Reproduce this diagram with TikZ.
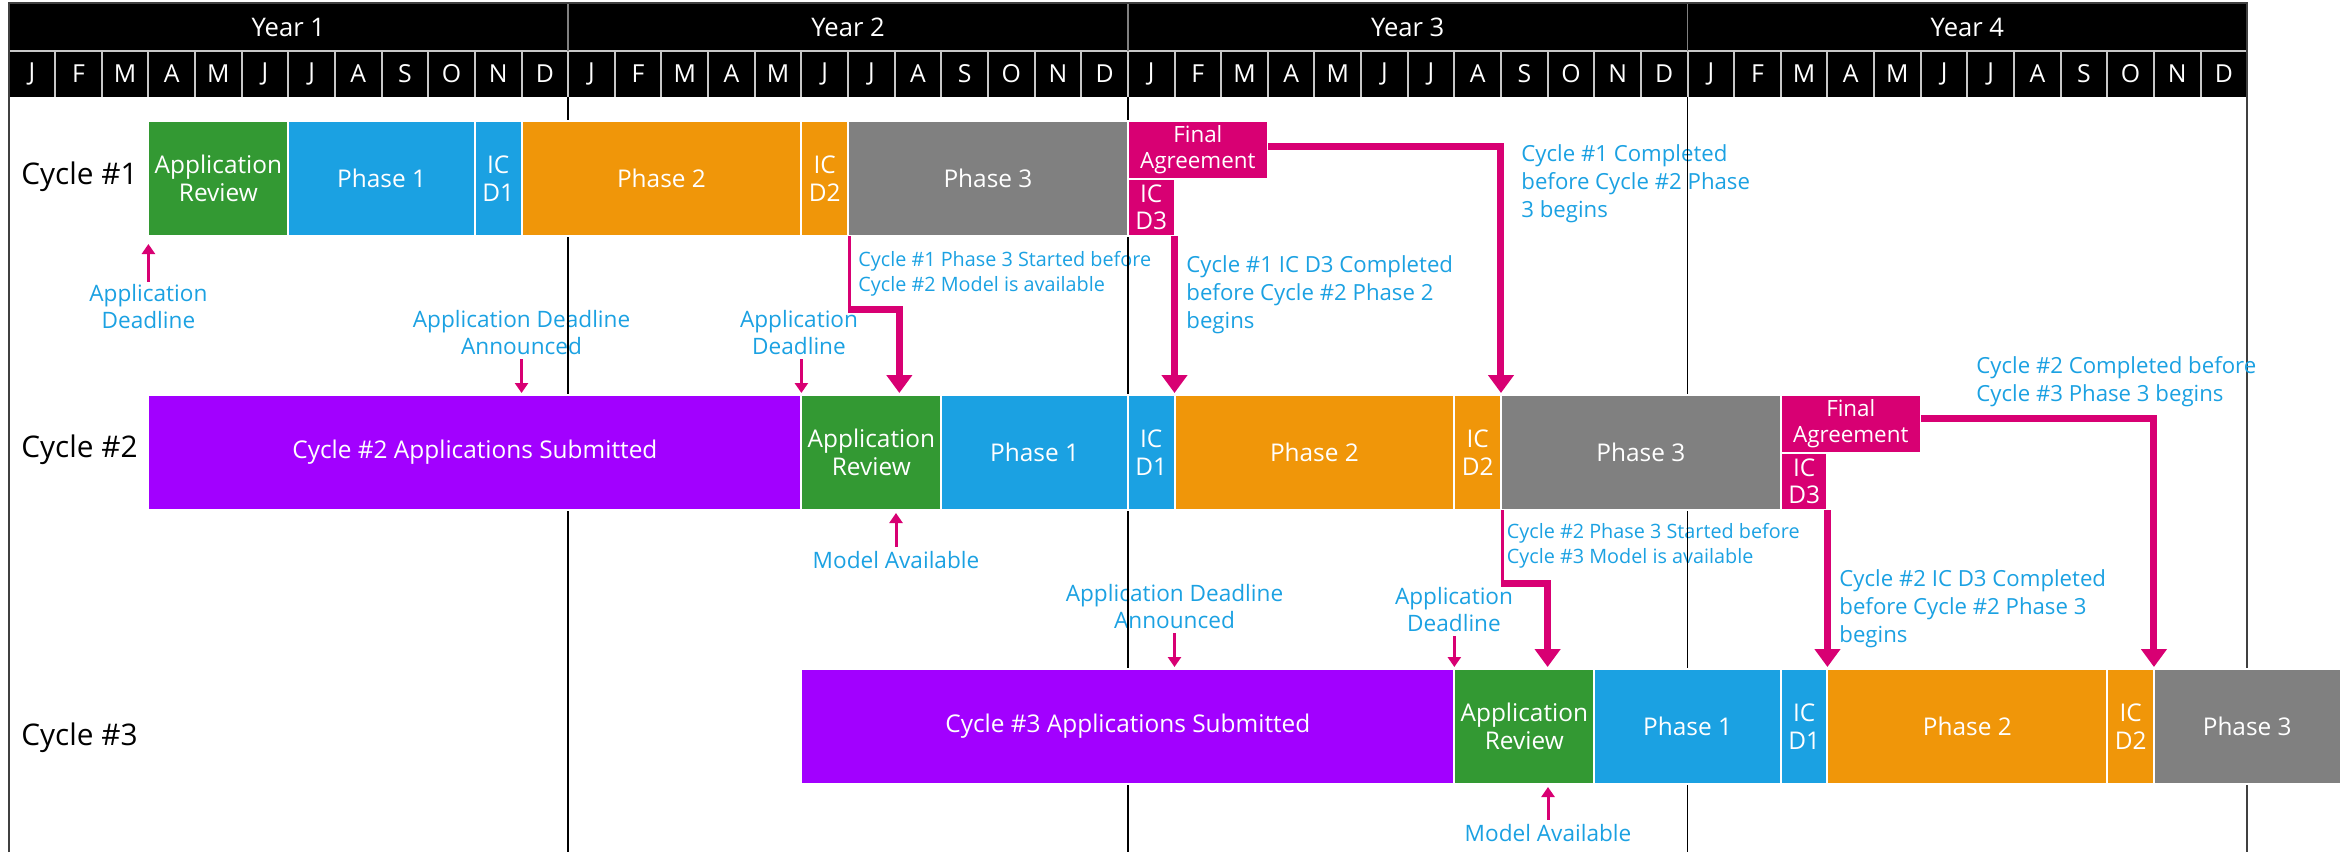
\documentclass[tikz,border=0pt]{standalone}
\usepackage{fontspec}
\setmainfont{Open Sans}
\usetikzlibrary{arrows.meta,calc}
\definecolor{mgreen}{HTML}{339933}
\definecolor{mblue}{HTML}{1BA1E2}
\definecolor{morange}{HTML}{F09609}
\definecolor{mgray}{HTML}{808080}
\definecolor{mmag}{HTML}{D80073}
\definecolor{mpurple}{HTML}{A200FF}
\definecolor{hdrsep}{HTML}{C8C8C8}
\definecolor{frame}{HTML}{404040}
% [options]{name}{month from}{month to}{y top}{y bottom}{colour}{text}
\newcommand{\gbar}[8][]{%
  \pgfmathsetmacro{\gbw}{(#4-#3)*23.32}%
  \pgfmathsetmacro{\gbh}{(#6-#5)*0.5}%
  \node[barbox,fill=#7,minimum width=\gbw pt,minimum height=\gbh pt,#1] (#2)
    at ({8.5+46.64*(#3+#4)/2},{(#5+#6)/2}) {#8};}
\begin{document}
\begin{tikzpicture}[x=0.5pt,y=-0.5pt,
  declare function={mx(\m)=8.5+46.64*\m;},
  barbox/.style={draw=white,line width=1pt,inner sep=0pt,outer sep=0pt,
    text=white,align=center,font=\fontsize{12.2}{13.8}\selectfont},
  fabox/.style={font=\fontsize{11.2}{12.8}\selectfont},
  ann/.style={text=mblue,inner sep=0pt,anchor=west,align=left,
    font=\fontsize{11.1}{14}\selectfont},
  annsm/.style={text=mblue,inner sep=0pt,align=center,
    font=\fontsize{11.3}{13.5}\selectfont},
  annsl/.style={text=mblue,inner sep=0pt,anchor=west,align=left,
    font=\fontsize{9.9}{12.5}\selectfont},
  smarrow/.style={draw=mmag,line width=1.5pt,-{Triangle[width=6.5pt,length=5pt]}},
  conn/.style={draw=mmag,line width=3.5pt,-{Triangle[width=12.5pt,length=9pt]},shorten >=1pt},
  thinseg/.style={draw=mmag,line width=1.5pt},
  yrline/.style={draw=black,line width=0.75pt},
  hdrsepl/.style={draw=hdrsep,line width=1pt},
  hdrtxt/.style={text=white,inner sep=0pt},
  cyc/.style={anchor=west,inner sep=0pt,font=\fontsize{14.9}{18}\selectfont}]
\useasboundingbox (0,0) rectangle (2351,852);

% ---------- header ----------
\fill[black] ({mx(0)},3) rectangle ({mx(48)},97);
\draw[hdrsepl] ({mx(0)},50.5) -- ({mx(48)},50.5);
\foreach \m in {1,...,47} \draw[hdrsepl] ({mx(\m)},50.5) -- ({mx(\m)},97);
\foreach \m in {12,24,36} \draw[draw=mgray,line width=0.75pt] ({mx(\m)},3) -- ({mx(\m)},50.5);
\foreach \k in {1,...,4}
  \node[hdrtxt,font=\fontsize{12.8}{14}\selectfont] (yr\k) at ({mx(12*\k-6)},27) {Year \k};
\foreach \yy in {0,...,3}
  \foreach \l [count=\i from 0] in {J,F,M,A,M,J,J,A,S,O,N,D}
    \node[hdrtxt,font=\fontsize{12.4}{14}\selectfont] (mo-\yy-\i) at ({mx(12*\yy+\i+0.5)},74) {\l};
\draw[draw=frame,line width=1pt] ({mx(0)},852) -- ({mx(0)},3) -- ({mx(48)},3) -- ({mx(48)},852);

% ---------- cycle labels ----------
\node[cyc] (cy1) at (21,177) {Cycle \#1};
\node[cyc] (cy2) at (21,450) {Cycle \#2};
\node[cyc] (cy3) at (21,738) {Cycle \#3};

% ---------- annotations ----------
\node[annsm] (a1) at ({mx(3)},306.5) {Application\\Deadline};
\node[annsm] (a2) at ({mx(11)},332.5) {Application Deadline\\Announced};
\node[annsm] (a3) at (799,332.5) {Application\\Deadline};
\node[annsm] (a4) at (896,560) {Model Available};
\node[annsl] (a5) at (858,273.5) {Cycle \#1 Phase 3 Started before\\Cycle \#2 Model is available};
\node[ann] (a6) at (1186,295) {Cycle \#1 IC D3 Completed\\before Cycle \#2 Phase 2\\begins};
\node[ann] (a7) at (1521,184) {Cycle \#1 Completed\\before Cycle \#2 Phase\\3 begins};
\node[annsm] (a8) at ({mx(25)},606.5) {Application Deadline\\Announced};
\node[annsm] (a9) at (1454,609.5) {Application\\Deadline};
\node[annsl] (a10) at (1506.5,545.5) {Cycle \#2 Phase 3 Started before\\Cycle \#3 Model is available};
\node[ann] (a11) at (1839,609) {Cycle \#2 IC D3 Completed\\before Cycle \#2 Phase 3\\begins};
\node[ann] (a12) at (1976,382) {Cycle \#2 Completed before\\Cycle \#3 Phase 3 begins};
\node[annsm] (a13) at (1548,833) {Model Available};

% ---------- year lines ----------
\foreach \m in {12,24,36} \draw[yrline] ({mx(\m)},97) -- ({mx(\m)},852);

% ---------- bars: cycle 1 ----------
\gbar{c1ar}{3}{6}{121}{236}{mgreen}{Application\\Review}
\gbar{c1p1}{6}{10}{121}{236}{mblue}{Phase 1}
\gbar{c1d1}{10}{11}{121}{236}{mblue}{IC\\D1}
\gbar{c1p2}{11}{17}{121}{236}{morange}{Phase 2}
\gbar{c1d2}{17}{18}{121}{236}{morange}{IC\\D2}
\gbar{c1p3}{18}{24}{121}{236}{mgray}{Phase 3}
\gbar[fabox]{c1fa}{24}{27}{121}{178.5}{mmag}{Final\\Agreement}
\gbar{c1d3}{24}{25}{178.5}{236}{mmag}{IC\\D3}

% ---------- bars: cycle 2 ----------
\gbar{c2sub}{3}{17}{395}{510}{mpurple}{Cycle \#2 Applications Submitted}
\gbar{c2ar}{17}{20}{395}{510}{mgreen}{Application\\Review}
\gbar{c2p1}{20}{24}{395}{510}{mblue}{Phase 1}
\gbar{c2d1}{24}{25}{395}{510}{mblue}{IC\\D1}
\gbar{c2p2}{25}{31}{395}{510}{morange}{Phase 2}
\gbar{c2d2}{31}{32}{395}{510}{morange}{IC\\D2}
\gbar{c2p3}{32}{38}{395}{510}{mgray}{Phase 3}
\gbar[fabox]{c2fa}{38}{41}{395}{452.5}{mmag}{Final\\Agreement}
\gbar{c2d3}{38}{39}{452.5}{510}{mmag}{IC\\D3}

% ---------- bars: cycle 3 ----------
\gbar{c3sub}{17}{31}{669}{784}{mpurple}{Cycle \#3 Applications Submitted}
\gbar{c3ar}{31}{34}{669}{784}{mgreen}{Application\\Review}
\gbar{c3p1}{34}{38}{669}{784}{mblue}{Phase 1}
\gbar{c3d1}{38}{39}{669}{784}{mblue}{IC\\D1}
\gbar{c3p2}{39}{45}{669}{784}{morange}{Phase 2}
\gbar{c3d2}{45}{46}{669}{784}{morange}{IC\\D2}
\gbar{c3p3}{46}{50}{669}{784}{mgray}{Phase 3}

% ---------- small marker arrows ----------
\draw[smarrow,shorten <=1pt,shorten >=4pt] (a1.north) -- (a1.north |- c1ar.south);
\draw[smarrow,shorten <=2pt,shorten >=1pt] (a2.south) -- (a2.south |- c2sub.north);
\draw[smarrow,shorten <=2pt,shorten >=1pt] (a3.south -| c2ar.north west) -- (c2ar.north west);
\draw[smarrow,shorten <=2pt,shorten >=1.5pt] (a4.north) -- (a4.north |- c2ar.south);
\draw[smarrow,shorten <=2pt,shorten >=1pt] (a8.south) -- (a8.south |- c3sub.north);
\draw[smarrow,shorten <=2pt,shorten >=1pt] (a9.south -| c3ar.north west) -- (c3ar.north west);
\draw[smarrow,shorten <=2pt,shorten >=1.5pt] (a13.north) -- (a13.north |- c3ar.south);

% ---------- dependency connectors ----------
\coordinate (k1) at ($(c1p3.south west)+(1.5,73.5)$);
\draw[thinseg] ($(c1p3.south west)+(1.5,0)$) -- (k1);
\draw[conn] ($(k1)+(-1.5,0)$) -| ($(c2ar.north)+(28,0)$);
\draw[conn] (c1d3.south east) -- (c1d3.south east |- c2p2.north);
\draw[conn] ($(c1fa.east)+(0,-3)$) -| (c2p3.north west);

\coordinate (k2) at ($(c2p3.south west)+(1.5,73.5)$);
\draw[thinseg] ($(c2p3.south west)+(1.5,0)$) -- (k2);
\draw[conn] ($(k2)+(-1.5,0)$) -| ($(c3ar.north)+(23.3,0)$);
\draw[conn] (c2d3.south east) -- (c2d3.south east |- c3p2.north);
\draw[conn] ($(c2fa.east)+(0,-5)$) -| (c3p3.north west);
\end{tikzpicture}
\end{document}
